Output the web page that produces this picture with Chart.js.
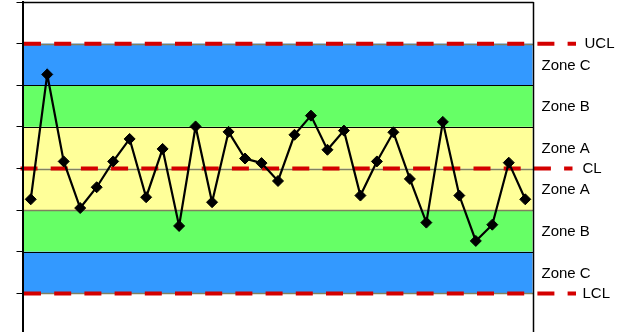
<!DOCTYPE html>
<html>
<head>
<meta charset="utf-8">
<script src="https://cdn.jsdelivr.net/npm/chart.js@4"></script>
<style>
  html, body { margin: 0; padding: 0; background: #fff; overflow: hidden; }
  #wrap { width: 621px; height: 340px; }
</style>
</head>
<body>
<div id="wrap"><canvas id="myChart" width="621" height="340"></canvas></div>
<script>
// samples, in sigma units from the centre line
const categories = ['1','2','3','4','5','6','7','8','9','10','11','12','13','14','15','16',
  '17','18','19','20','21','22','23','24','25','26','27','28','29','30','31'];
const values = [-0.74, 2.26, 0.17, -0.95, -0.45, 0.17, 0.71, -0.69, 0.47, -1.38, 1.01,
  -0.81, 0.88, 0.24, 0.13, -0.30, 0.81, 1.27, 0.45, 0.91, -0.65, 0.17, 0.87, -0.25,
  -1.30, 1.12, -0.65, -1.74, -1.35, 0.14, -0.74];

const zoneEdges = [3, 2, 1, 0, -1, -2, -3];
const zoneLabels = ['Zone C', 'Zone B', 'Zone A', 'Zone A', 'Zone B', 'Zone C'];
const zoneColors = ['#3399ff', '#66ff66', '#ffff99', '#ffff99', '#66ff66', '#3399ff'];
const controlLabels = ['UCL', 'CL', 'LCL'];
const controlValues = [3, 0, -3];

const zonesPlugin = {
  id: 'zones',
  beforeDraw(chart) {
    const ctx = chart.ctx;
    const area = chart.chartArea;
    const y = chart.scales.y;
    ctx.save();
    // coloured bands
    for (let i = 0; i < zoneLabels.length; i++) {
      const top = y.getPixelForValue(zoneEdges[i]);
      const bottom = y.getPixelForValue(zoneEdges[i + 1]);
      ctx.fillStyle = zoneColors[i];
      ctx.fillRect(area.left, top, area.right - area.left - 1, bottom - top);
    }
    // band edges
    zoneEdges.forEach(function (v) {
      const py = Math.round(y.getPixelForValue(v)) + 0.5;
      const ctl = controlValues.indexOf(v) >= 0;
      ctx.strokeStyle = (ctl || v === -1) ? '#808060' : '#000';
      ctx.lineWidth = (ctl || v === -1) ? 1.5 : 1;
      ctx.beginPath();
      ctx.moveTo(area.left, py);
      ctx.lineTo(area.right, py);
      ctx.stroke();
    });
    // red control lines, running past the plot to their labels
    ctx.strokeStyle = '#d40000';
    ctx.lineWidth = 4;
    ctx.setLineDash([17, 13.2]);
    controlValues.forEach(function (v, i) {
      const py = y.getPixelForValue(v);
      const start = v === 0 ? area.left - 2 : area.left + 1.5;
      ctx.beginPath();
      ctx.moveTo(start, py);
      ctx.lineTo(start + 552, py);
      ctx.stroke();
    });
    ctx.setLineDash([]);
    // labels
    ctx.fillStyle = '#000';
    ctx.font = '15px "Liberation Sans", Arial, sans-serif';
    ctx.textBaseline = 'middle';
    for (let i = 0; i < zoneLabels.length; i++) {
      const mid = (y.getPixelForValue(zoneEdges[i]) + y.getPixelForValue(zoneEdges[i + 1])) / 2;
      ctx.fillText(zoneLabels[i], area.right + 8, mid + 1);
    }
    controlLabels.forEach(function (t, i) {
      const py = y.getPixelForValue(controlValues[i]);
      ctx.fillText(t, area.right + (t === 'UCL' ? 51 : 49), py);
    });
    ctx.restore();
  },
  afterDraw(chart) {
    const ctx = chart.ctx;
    const area = chart.chartArea;
    ctx.save();
    ctx.strokeStyle = '#000';
    ctx.lineWidth = 1.5;
    ctx.beginPath();
    ctx.moveTo(area.left, area.top + 0.5);
    ctx.lineTo(area.right, area.top + 0.5);
    ctx.moveTo(area.right, area.top);
    ctx.lineTo(area.right, chart.height);
    ctx.stroke();
    ctx.restore();
  }
};

var ctx = document.getElementById('myChart').getContext('2d');
var chart = new Chart(ctx, {
  type: 'line',
  data: {
    labels: categories,
    datasets: [{
      data: values,
      borderColor: '#000',
      backgroundColor: '#000',
      borderWidth: 2.2,
      pointStyle: 'rectRot',
      pointRadius: 5.5,
      pointBorderWidth: 1,
      tension: 0
    }]
  },
  options: {
    responsive: false,
    animation: false,
    layout: { autoPadding: false, padding: { left: 16.5, right: 87.5, top: 2, bottom: 5 } },
    plugins: { legend: { display: false }, tooltip: { enabled: false } },
    scales: {
      x: { type: 'category', offset: true, display: false },
      y: {
        min: -4, max: 4,
        ticks: { stepSize: 1, display: false },
        grid: { drawOnChartArea: false, drawTicks: true, tickLength: 6, color: '#000', lineWidth: 1 },
        border: { display: true, color: '#000', width: 2 }
      }
    }
  },
  plugins: [zonesPlugin]
});
</script>
</body>
</html>
